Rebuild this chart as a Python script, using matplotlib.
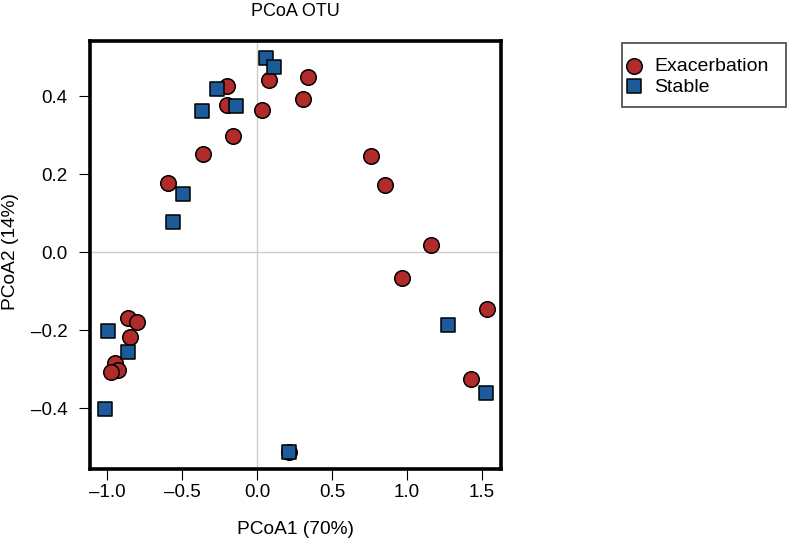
import matplotlib.pyplot as plt
from matplotlib.patches import Rectangle

plt.rcParams['font.family'] = ['Liberation Sans', 'DejaVu Sans']

# PCoA coordinates
exac_x = [-0.20, 0.08, 0.338, -0.20, 0.031, 0.307, -0.162, -0.362, -0.596, 0.76, 0.856,
          1.16, 0.967, 1.533, 1.43, -0.862, -0.798, -0.847, -0.949, -0.925, -0.975, 0.215]
exac_y = [0.426, 0.44, 0.448, 0.376, 0.365, 0.392, 0.297, 0.252, 0.176, 0.245, 0.171,
          0.018, -0.067, -0.146, -0.326, -0.170, -0.179, -0.217, -0.284, -0.303, -0.308, -0.512]
stab_x = [0.058, 0.116, -0.267, -0.14, -0.369, -0.493, -0.56, 1.276, 1.527, -0.996, -0.86, -1.011, 0.215]
stab_y = [0.498, 0.475, 0.418, 0.374, 0.361, 0.150, 0.078, -0.188, -0.362, -0.202, -0.256, -0.403, -0.512]

red = '#B22B2B'
blue = '#1C5A9A'

W, H = 789, 544
fig = plt.figure(figsize=(W / 100, H / 100), dpi=100)
ax = fig.add_axes([90 / W, 75 / H, 411 / W, 428 / H])

ax.axhline(0, color='#cccccc', lw=1, zorder=1)
ax.axvline(0, color='#cccccc', lw=1, zorder=1)

ax.scatter(exac_x, exac_y, s=125, c=red, marker='o', edgecolors='black', linewidths=1.1,
           zorder=3, label='Exacerbation')
ax.scatter(stab_x, stab_y, s=105, c=blue, marker='s', edgecolors='black', linewidths=1.1,
           zorder=4, label='Stable')

ax.set_xlim(-1.113, 1.627)
ax.set_ylim(-0.556, 0.541)
ax.set_xticks([-1.0, -0.5, 0.0, 0.5, 1.0, 1.5])
ax.set_yticks([-0.4, -0.2, 0.0, 0.2, 0.4])
fmt = plt.FuncFormatter(lambda v, p: f'{v:.1f}'.replace('-', '\u2013'))
ax.xaxis.set_major_formatter(fmt)
ax.yaxis.set_major_formatter(fmt)
ax.tick_params(length=8, width=0.8, labelsize=13.5)
ax.tick_params(axis='x', pad=2.5)
ax.tick_params(axis='y', pad=8)

for sp in ax.spines.values():
    sp.set_linewidth(2.6)

# axis titles placed in figure pixels
fig.text(295.5 / W, 1 - 530 / H, 'PCoA1 (70%)', fontsize=13.8, ha='center', va='center')
fig.text(11 / W, 1 - 252 / H, 'PCoA2 (14%)', fontsize=13.8, ha='center', va='center',
         rotation=90)
fig.text(295.5 / W, 1 - 11 / H, 'PCoA OTU', fontsize=13, ha='center', va='center')

# legend box
fig.patches.append(Rectangle((622 / W, 1 - 107 / H), 164 / W, 64 / H,
                             transform=fig.transFigure, fill=False,
                             edgecolor='#444444', lw=1.2))
leg = fig.legend(loc='center left', bbox_to_anchor=(625 / W, 1 - 76.5 / H), fontsize=14,
                 frameon=False, handletextpad=0.6, borderpad=0, labelspacing=0.15,
                 handlelength=0.9, borderaxespad=0)

fig.savefig('out.png', dpi=100)
